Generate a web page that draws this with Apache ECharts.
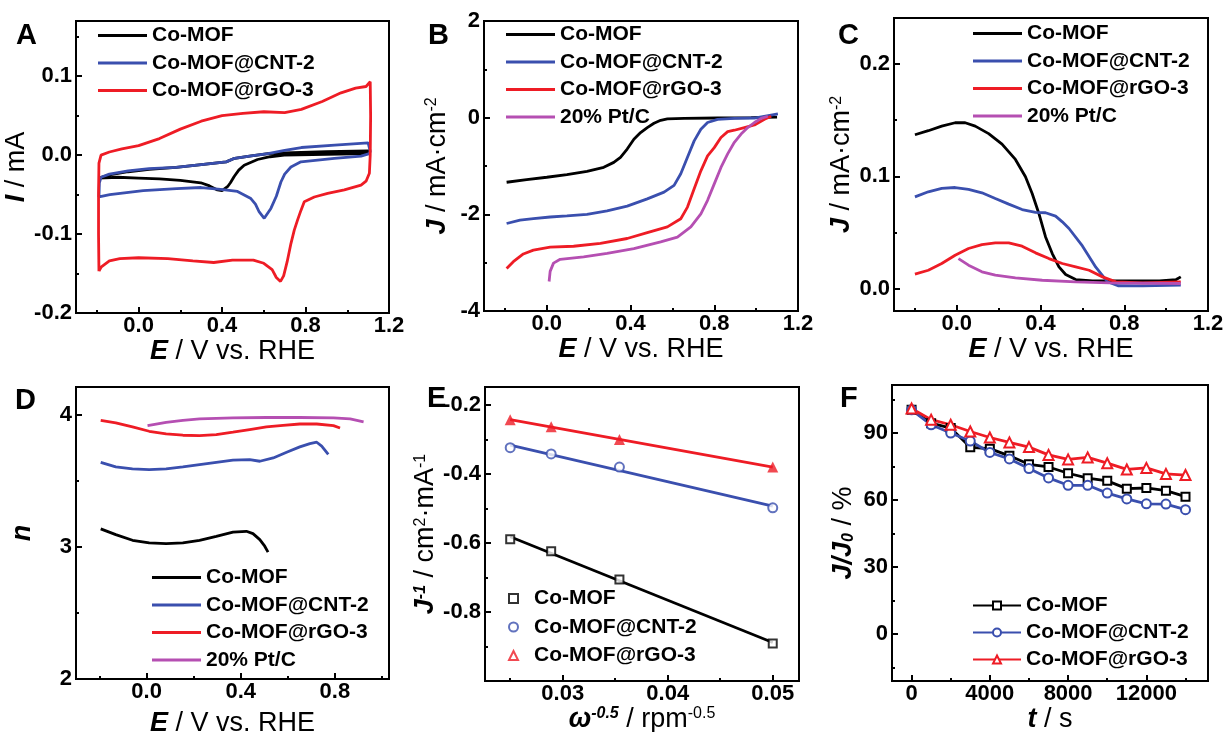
<!DOCTYPE html>
<html><head><meta charset="utf-8">
<script src="https://cdn.jsdelivr.net/npm/echarts@6/dist/echarts.min.js"></script>
<style>html,body{margin:0;padding:0;background:#fff}#c{width:1223px;height:732px}</style>
</head><body><div id="c"></div><script>
// ---------------- DATA ----------------
const COL = { k:'#000000', b:'#3a4fae', r:'#ee1c25', m:'#b54fb2' };
const NAMES = ['Co-MOF','Co-MOF@CNT-2','Co-MOF@rGO-3','20% Pt/C'];

// Panel A: cyclic voltammograms [E, I]
const A_CoMOF = [[-0.19,-0.029],[-0.1,-0.028],[0.0,-0.029],[0.1,-0.030],[0.2,-0.032],[0.298,-0.035],[0.34,-0.039],[0.378,-0.044],[0.40,-0.045],[0.426,-0.040],[0.44,-0.035],[0.458,-0.027],[0.48,-0.019],[0.506,-0.0127],[0.57,-0.0055],[0.63,-0.002],[0.698,0.0],[0.9,0.001],[1.1,0.002],[1.11,0.004],[1.1,0.0055],[0.9,0.0045],[0.7,0.003],[0.62,0.002],[0.54,-0.001],[0.46,-0.004],[0.42,-0.0085],[0.3,-0.012],[0.18,-0.0156],[0.05,-0.018],[-0.05,-0.021],[-0.14,-0.025],[-0.19,-0.029]];
const A_CNT = [[-0.19,-0.053],[-0.188,-0.035],[-0.18,-0.028],[-0.14,-0.024],[-0.05,-0.02],[0.05,-0.017],[0.18,-0.0156],[0.3,-0.012],[0.42,-0.0085],[0.46,-0.004],[0.54,-0.001],[0.62,0.002],[0.7,0.006],[0.78,0.0097],[0.94,0.0127],[1.1,0.0156],[1.11,0.005],[1.106,0.002],[1.066,-0.0013],[0.938,-0.0042],[0.778,-0.0084],[0.73,-0.015],[0.7,-0.024],[0.682,-0.034],[0.66,-0.052],[0.634,-0.0675],[0.602,-0.080],[0.578,-0.072],[0.56,-0.062],[0.538,-0.055],[0.474,-0.046],[0.394,-0.0434],[0.3,-0.041],[0.182,-0.0424],[0.022,-0.045],[-0.138,-0.05],[-0.19,-0.053]];
const A_rGO = [[-0.19,-0.147],[-0.192,-0.1],[-0.192,-0.05],[-0.19,-0.01],[-0.18,0.0],[-0.14,0.004],[-0.08,0.008],[0.0,0.012],[0.1,0.021],[0.2,0.033],[0.3,0.043],[0.4,0.050],[0.5,0.053],[0.6,0.055],[0.7,0.054],[0.78,0.058],[0.88,0.068],[0.97,0.079],[1.04,0.085],[1.09,0.087],[1.11,0.093],[1.112,0.05],[1.11,0.0],[1.106,-0.023],[1.09,-0.033],[1.066,-0.038],[0.986,-0.044],[0.906,-0.0485],[0.842,-0.053],[0.794,-0.059],[0.778,-0.07],[0.762,-0.082],[0.746,-0.095],[0.73,-0.112],[0.712,-0.135],[0.695,-0.153],[0.68,-0.16],[0.66,-0.155],[0.64,-0.145],[0.6,-0.137],[0.55,-0.133],[0.45,-0.133],[0.36,-0.136],[0.26,-0.134],[0.14,-0.131],[0.0,-0.130],[-0.09,-0.131],[-0.14,-0.134],[-0.18,-0.142],[-0.19,-0.147]];

// Panel B: LSV [E, J]
const B_CoMOF = [[-0.192,-1.336],[-0.096,-1.28],[0,-1.233],[0.096,-1.178],[0.192,-1.11],[0.272,-1.027],[0.32,-0.925],[0.352,-0.82],[0.384,-0.65],[0.416,-0.445],[0.448,-0.308],[0.48,-0.205],[0.512,-0.116],[0.544,-0.055],[0.576,-0.027],[0.656,-0.014],[0.816,-0.007],[0.976,0],[1.1,0.01]];
const B_CNT = [[-0.192,-2.19],[-0.128,-2.12],[-0.064,-2.09],[0.016,-2.055],[0.096,-2.034],[0.192,-2.0],[0.288,-1.93],[0.384,-1.83],[0.48,-1.68],[0.56,-1.54],[0.608,-1.40],[0.64,-1.16],[0.672,-0.82],[0.704,-0.48],[0.736,-0.24],[0.768,-0.10],[0.816,-0.034],[0.896,-0.014],[0.992,-0.007],[1.104,0.08]];
const B_rGO = [[-0.192,-3.12],[-0.16,-2.98],[-0.112,-2.82],[-0.064,-2.74],[0.016,-2.68],[0.128,-2.66],[0.256,-2.60],[0.384,-2.50],[0.48,-2.38],[0.576,-2.26],[0.64,-2.09],[0.672,-1.85],[0.704,-1.47],[0.736,-1.10],[0.768,-0.79],[0.8,-0.62],[0.832,-0.41],[0.864,-0.29],[0.896,-0.26],[0.944,-0.205],[0.992,-0.15],[1.04,-0.034],[1.072,0.03]];
const B_Pt = [[0.011,-3.39],[0.016,-3.18],[0.032,-3.01],[0.064,-2.93],[0.176,-2.88],[0.288,-2.81],[0.416,-2.71],[0.544,-2.57],[0.624,-2.47],[0.688,-2.26],[0.736,-1.99],[0.768,-1.71],[0.8,-1.37],[0.832,-1.03],[0.864,-0.75],[0.896,-0.51],[0.928,-0.34],[0.96,-0.205],[0.992,-0.10],[1.024,-0.014],[1.056,0.03]];

// Panel C: ring current [E, J]
const C_CoMOF = [[-0.2,0.137],[-0.136,0.1406],[-0.072,0.1447],[-0.008,0.1477],[0.04,0.1477],[0.088,0.1447],[0.152,0.138],[0.216,0.1287],[0.28,0.115],[0.328,0.0996],[0.36,0.0847],[0.392,0.0669],[0.424,0.046],[0.456,0.0312],[0.488,0.0193],[0.52,0.0125],[0.568,0.008],[0.648,0.0068],[0.808,0.0068],[0.968,0.0068],[1.048,0.008],[1.07,0.0104]];
const C_CNT = [[-0.2,0.0817],[-0.136,0.0862],[-0.072,0.0892],[-0.008,0.09],[0.056,0.0883],[0.12,0.0853],[0.184,0.0802],[0.248,0.0752],[0.312,0.0704],[0.376,0.0678],[0.424,0.0675],[0.472,0.0645],[0.504,0.0594],[0.536,0.0535],[0.6,0.038],[0.664,0.019],[0.72,0.006],[0.77,0.0025],[0.888,0.0024],[1.07,0.003]];
const C_rGO = [[-0.2,0.0128],[-0.136,0.0163],[-0.072,0.0223],[-0.008,0.0297],[0.056,0.0357],[0.12,0.0392],[0.184,0.0407],[0.248,0.0407],[0.312,0.0377],[0.376,0.0318],[0.44,0.0267],[0.504,0.0223],[0.568,0.0193],[0.632,0.0163],[0.696,0.0104],[0.76,0.0059],[0.888,0.005],[1.07,0.006]];
const C_Pt = [[0.008,0.0267],[0.056,0.0208],[0.12,0.0149],[0.184,0.0119],[0.28,0.0095],[0.408,0.0074],[0.568,0.0059],[0.728,0.005],[1.07,0.0045]];

// Panel D: electron transfer number [E, n]
const D_CoMOF = [[-0.195,3.136],[-0.131,3.093],[-0.06,3.05],[0.011,3.03],[0.083,3.025],[0.154,3.03],[0.225,3.05],[0.296,3.08],[0.367,3.111],[0.424,3.118],[0.452,3.10],[0.481,3.055],[0.502,3.005],[0.516,2.96]];
const D_CNT = [[-0.195,3.64],[-0.131,3.605],[-0.06,3.59],[0.011,3.585],[0.083,3.59],[0.154,3.605],[0.225,3.623],[0.296,3.64],[0.367,3.656],[0.438,3.66],[0.481,3.648],[0.538,3.673],[0.595,3.716],[0.651,3.757],[0.694,3.782],[0.723,3.792],[0.744,3.762],[0.772,3.70]];
const D_rGO = [[-0.195,3.958],[-0.131,3.938],[-0.06,3.908],[0.011,3.875],[0.083,3.855],[0.154,3.845],[0.225,3.842],[0.296,3.85],[0.367,3.868],[0.438,3.888],[0.509,3.908],[0.58,3.92],[0.651,3.93],[0.723,3.93],[0.794,3.918],[0.822,3.90]];
const D_Pt = [[0.004,3.918],[0.083,3.943],[0.154,3.958],[0.225,3.968],[0.367,3.976],[0.509,3.979],[0.651,3.979],[0.794,3.976],[0.865,3.968],[0.922,3.946]];

// Panel E: Koutecky-Levich
const E_x = [0.025, 0.0289, 0.0354, 0.05];
const E_CoMOF = [-0.589, -0.624, -0.706, -0.891];
const E_CNT = [-0.324, -0.342, -0.380, -0.498];
const E_rGO = [-0.243, -0.263, -0.300, -0.380];

// Panel F: chronoamperometry
const F_t = [0,1000,2000,3000,4000,5000,6000,7000,8000,9000,10000,11000,12000,13000,14000];
const F_CoMOF = [100.4,94.4,92.2,83.6,83.0,79.8,76.0,74.8,72.0,69.8,68.6,65.1,65.4,64.2,61.5];
const F_CNT = [100.4,93.7,90.0,86.4,81.3,78.4,74.1,69.9,66.6,66.6,63.1,60.5,58.3,58.2,55.7];
const F_rGO = [101.0,96.0,93.7,90.7,88.0,85.8,83.7,80.2,78.2,79.1,76.5,73.7,74.4,71.7,71.2];

// Tick values
const TK_E = [0.0,0.4,0.8,1.2], TK_E_min = [-0.2,0.2,0.6,1.0];
const TK_D_E = [0.0,0.4,0.8];
const TK_A_y = [-0.2,-0.1,0.0,0.1], TK_A_ymin = [-0.15,-0.05,0.05,0.15];
const TK_B_y = [-4,-2,0,2], TK_B_ymin = [-3,-1,1];
const TK_C_y = [0.0,0.1,0.2], TK_C_ymin = [0.05,0.15];
const TK_D_y = [2,3,4], TK_D_ymin = [2.5,3.5];
const TK_E_x = [0.03,0.04,0.05], TK_E_xmin = [0.025,0.035,0.045];
const TK_E_y = [-0.8,-0.6,-0.4,-0.2], TK_E_ymin = [-0.9,-0.7,-0.5,-0.3];
const TK_F_x = [0,4000,8000,12000], TK_F_xmin = [2000,6000,10000,14000];
const TK_F_y = [0,30,60,90], TK_F_ymin = [-15,15,45,75,105];

// ---------------- BUILD ----------------
const FONT = '"Liberation Sans", Arial, sans-serif';
const RICH = {
  bi:{fontStyle:'italic',fontWeight:'bold',fontSize:27,fontFamily:FONT,color:'#000'},
  sup:{fontSize:16,verticalAlign:'top',fontFamily:FONT,color:'#000'},
  supi:{fontSize:16,verticalAlign:'top',fontStyle:'italic',fontWeight:'bold',fontFamily:FONT,color:'#000'},
  sub:{fontSize:16,verticalAlign:'bottom',fontStyle:'italic',fontWeight:'bold',fontFamily:FONT,color:'#000'}
};
const NAME_STYLE = {fontSize:27,fontFamily:FONT,color:'#000',rich:RICH};
const f1 = v => v.toFixed(1), f2 = v => v.toFixed(2), f0 = v => String(Math.round(v));

const grids = [
  {left:76,top:21,width:313,height:292},
  {left:484,top:21,width:314,height:290},
  {left:894,top:18,width:314,height:293},
  {left:76,top:387,width:313,height:292},
  {left:485,top:387,width:314,height:294},
  {left:892,top:385,width:316,height:296}
].map(g => Object.assign(g,{show:true,borderColor:'#000',borderWidth:2,backgroundColor:'transparent',containLabel:false,outerBoundsMode:'none'}));

function mkAxis(kind, gi, min, max, majors, minors, fmt, name, gap){
  const main = {
    type:'value', gridIndex:gi, min:min, max:max, position: kind==='x'?'bottom':'left',
    axisLine:{show:true,onZero:false,lineStyle:{color:'#000',width:2}},
    axisTick:{show:true,inside:true,length:6,customValues:majors,lineStyle:{color:'#000',width:2}},
    axisLabel:{show:true,customValues:majors,formatter:fmt,margin:kind==='x'?2:4,color:'#000',fontSize:22,fontWeight:'bold',fontFamily:FONT},
    splitLine:{show:false},
    name:name, nameLocation:'middle', nameGap:gap, nameTextStyle:NAME_STYLE
  };
  const minor = {
    type:'value', gridIndex:gi, min:min, max:max, position: kind==='x'?'bottom':'left',
    axisLine:{show:false,onZero:false}, axisLabel:{show:false}, splitLine:{show:false},
    axisTick:{show:true,inside:true,length:3,customValues:minors,lineStyle:{color:'#000',width:2}}
  };
  return [main, minor];
}
const EX = '{bi|E} / V vs. RHE';
const xAxes = [].concat(
  mkAxis('x',0,-0.3,1.2,TK_E,TK_E_min,f1,EX,20),
  mkAxis('x',1,-0.3,1.2,TK_E,TK_E_min,f1,EX,20),
  mkAxis('x',2,-0.3,1.2,TK_E,TK_E_min,f1,EX,20),
  mkAxis('x',3,-0.3,1.03,TK_D_E,TK_E_min,f1,EX,31),
  mkAxis('x',4,0.0226,0.0525,TK_E_x,TK_E_xmin,f2,'{bi|ω}{supi|-0.5} / rpm{sup|-0.5}',19),
  mkAxis('x',5,-1000,15150,TK_F_x,TK_F_xmin,f0,'{bi|t} / s',22)
);
const yAxes = [].concat(
  mkAxis('y',0,-0.2,0.17,TK_A_y,TK_A_ymin,f1,'{bi|I} / mA',32),
  mkAxis('y',1,-4,2,TK_B_y,TK_B_ymin,f0,'{bi|J} / mA·cm{sup|-2}',33),
  mkAxis('y',2,-0.02,0.241,TK_C_y,TK_C_ymin,f1,'{bi|J} / mA·cm{sup|-2}',31),
  mkAxis('y',3,2,4.21,TK_D_y,TK_D_ymin,f0,'{bi|n}',40),
  mkAxis('y',4,-1.0,-0.148,TK_E_y,TK_E_ymin,f1,'{bi|J}{supi|-1} / cm{sup|2}·mA{sup|-1}',31),
  mkAxis('y',5,-21,111.5,TK_F_y,TK_F_ymin,f0,'{bi|J/J}{sub|0} / %',35)
);

const LW = 2.8;
const series = [];
function curve(gi, tag, idx, data, color){
  series.push({type:'line', name:NAMES[idx]+'#'+tag, xAxisIndex:2*gi, yAxisIndex:2*gi, data:data,
    symbol:'none', showSymbol:false, smooth:false, lineStyle:{width:LW,color:color}, itemStyle:{color:color}, animation:false, z:3});
}
curve(0,'A',0,A_CoMOF,COL.k); curve(0,'A',1,A_CNT,COL.b); curve(0,'A',2,A_rGO,COL.r);
curve(1,'B',0,B_CoMOF,COL.k); curve(1,'B',1,B_CNT,COL.b); curve(1,'B',2,B_rGO,COL.r); curve(1,'B',3,B_Pt,COL.m);
curve(2,'C',0,C_CoMOF,COL.k); curve(2,'C',1,C_CNT,COL.b); curve(2,'C',2,C_rGO,COL.r); curve(2,'C',3,C_Pt,COL.m);
curve(3,'D',0,D_CoMOF,COL.k); curve(3,'D',1,D_CNT,COL.b); curve(3,'D',2,D_rGO,COL.r); curve(3,'D',3,D_Pt,COL.m);

// Panel E: linear fits + points
function fitLine(xs, ys){
  const n = xs.length; let sx=0,sy=0,sxx=0,sxy=0;
  for(let i=0;i<n;i++){sx+=xs[i];sy+=ys[i];sxx+=xs[i]*xs[i];sxy+=xs[i]*ys[i];}
  const k=(n*sxy-sx*sy)/(n*sxx-sx*sx), b=(sy-k*sx)/n;
  const x0=Math.min(...xs), x1=Math.max(...xs);
  return [[x0,k*x0+b],[x1,k*x1+b]];
}
const E_sets = [[E_CoMOF,COL.k,'emptyRect',8],[E_CNT,COL.b,'emptyCircle',9],[E_rGO,COL.r,'triangle',11]];
E_sets.forEach((s,i)=>{
  series.push({type:'line',name:'fit'+i,xAxisIndex:8,yAxisIndex:8,data:fitLine(E_x,s[0]),symbol:'none',
    lineStyle:{width:LW,color:s[1]},itemStyle:{color:s[1]},animation:false,z:2});
});
E_sets.forEach((s,i)=>{
  series.push({type:'scatter',name:NAMES[i]+'#E',xAxisIndex:8,yAxisIndex:8,data:E_x.map((x,j)=>[x,s[0][j]]),
    symbol:s[2],symbolSize:s[3],itemStyle:{color:s[1],borderWidth:2},animation:false,z:4});
});
// Panel F
const F_sets = [[F_CoMOF,COL.k,'emptyRect',8],[F_CNT,COL.b,'emptyCircle',9],[F_rGO,COL.r,'emptyTriangle',10]];
F_sets.forEach((s,i)=>{
  series.push({type:'line',name:NAMES[i]+'#F',xAxisIndex:10,yAxisIndex:10,data:F_t.map((t,j)=>[t,s[0][j]]),
    symbol:s[2],symbolSize:s[3],showSymbol:true,lineStyle:{width:LW,color:s[1]},itemStyle:{color:s[1],borderWidth:2},animation:false,z:3});
});

const LTXT = {fontSize:21,fontWeight:'bold',color:'#000',fontFamily:FONT};
const fmtName = n => n.split('#')[0];
function lineLegend(tag, count, left, top){
  return {orient:'vertical',left:left,top:top,padding:0,itemWidth:49,itemHeight:3,itemGap:6.5,icon:'rect',
    selectedMode:false,formatter:fmtName,textStyle:LTXT,
    data:NAMES.slice(0,count).map(n=>n+'#'+tag)};
}
const legends = [
  lineLegend('A',3,98,25),
  lineLegend('B',4,506,24),
  lineLegend('C',4,973,23),
  lineLegend('D',4,152,567),
  {orient:'vertical',left:508,top:588,padding:0,itemWidth:9,itemHeight:9,itemGap:7.5,selectedMode:false,
    formatter:fmtName,textStyle:Object.assign({padding:[0,0,0,11]},LTXT),
    data:[{name:NAMES[0]+'#E',icon:'emptyRect'},{name:NAMES[1]+'#E',icon:'emptyCircle'},{name:NAMES[2]+'#E',icon:'emptyTriangle'}]},
  {orient:'vertical',left:972,top:595,padding:0,itemWidth:48,itemHeight:10,itemGap:6,selectedMode:false,
    formatter:fmtName,textStyle:LTXT,data:NAMES.slice(0,3).map(n=>n+'#F')}
];

const letters = [['A',16,21],['B',428,21],['C',838,21],['D',15,386],['E',427,384],['F',840,384]];
const titles = letters.map(l=>({text:l[0],left:l[1],top:l[2],padding:0,
  textStyle:{fontSize:29,fontWeight:'bold',color:'#000',fontFamily:FONT}}));

const chart = echarts.init(document.getElementById('c'), null, {renderer:'canvas'});
chart.setOption({
  animation:false, backgroundColor:'#fff',
  title:titles, legend:legends, grid:grids, xAxis:xAxes, yAxis:yAxes, series:series
});
</script></body></html>
